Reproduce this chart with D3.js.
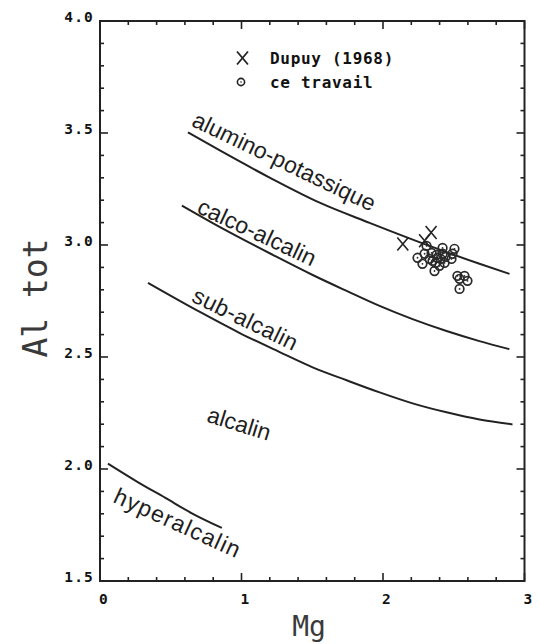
<!DOCTYPE html>
<html>
<head>
<meta charset="utf-8">
<script src="https://cdn.jsdelivr.net/npm/d3@7/dist/d3.min.js"></script>
<style>
  html, body { margin: 0; padding: 0; background: #fff; }
  svg { display: block; }
  .tick-label { font-family: "DejaVu Sans Mono", monospace; font-weight: bold; font-size: 14.5px; fill: #111; letter-spacing: 1.2px; }
  .legend-text { font-family: "DejaVu Sans Mono", monospace; font-weight: bold; font-size: 16px; fill: #111; letter-spacing: 0.7px; }
  .axis-title { font-family: "DejaVu Sans Mono", monospace; fill: #3a3a3a; }
  .field-label { font-family: "Liberation Sans", Arial, sans-serif; font-size: 23px; fill: #1e1e1e; }
</style>
</head>
<body>
<svg id="chart" width="539" height="644"></svg>
<script>
// Boundary curves (Mg, Al tot) separating the magmatic series fields
const aluminoPotassique = [[0.621, 3.503], [0.847, 3.422], [1.199, 3.301], [1.552, 3.189], [1.905, 3.099], [2.329, 2.996], [2.682, 2.916], [2.894, 2.871]];
const calcoAlcalin = [[0.579, 3.176], [0.868, 3.073], [1.221, 2.956], [1.503, 2.866], [1.743, 2.795], [1.976, 2.728], [2.209, 2.669], [2.449, 2.616], [2.682, 2.571], [2.893, 2.535]];
const subAlcalin = [[0.339, 2.831], [0.706, 2.701], [0.988, 2.607], [1.270, 2.522], [1.503, 2.454], [1.743, 2.396], [1.976, 2.342], [2.209, 2.293], [2.449, 2.253], [2.682, 2.221], [2.915, 2.199]];
const hyperalcalin = [[0.056, 2.024], [0.261, 1.944], [0.459, 1.872], [0.656, 1.800], [0.861, 1.737]];

// Biotite analyses
const dupuy1968 = [[2.14, 3.004], [2.34, 3.056], [2.294, 3.019]];
const ceTravail = [
  [2.308, 2.996], [2.421, 2.987], [2.505, 2.983], [2.244, 2.943], [2.294, 2.961],
  [2.279, 2.916], [2.350, 2.929], [2.385, 2.943], [2.399, 2.907], [2.364, 2.884],
  [2.435, 2.920], [2.484, 2.938], [2.491, 2.961], [2.343, 2.965], [2.421, 2.961],
  [2.378, 2.956], [2.407, 2.938], [2.371, 2.920], [2.442, 2.947], [2.329, 2.938],
  [2.526, 2.862], [2.576, 2.862], [2.597, 2.840], [2.541, 2.849], [2.541, 2.804]
];

// Axis ticks
const xMajorTicks = [0, 1, 2, 3];
const yMajorTicks = [1.5, 2.0, 2.5, 3.0, 3.5, 4.0];
const xTickLabels = ["0", "1", "2", "3"];
const yTickLabels = ["1.5", "2.0", "2.5", "3.0", "3.5", "4.0"];

// Field names
const fieldLabels = [
  { text: "alumino-potassique", mg: 0.640, al: 3.534, angle: 25.6, len: 200 },
  { text: "calco-alcalin", mg: 0.677, al: 3.146, angle: 25.1, len: 128 },
  { text: "sub-alcalin", mg: 0.640, al: 2.750, angle: 26.1, len: 114 },
  { text: "alcalin", mg: 0.748, al: 2.212, angle: 17.2, len: 65 },
  { text: "hyperalcalin", mg: 0.085, al: 1.854, angle: 24.5, len: 136 }
];

const svg = d3.select("#chart");
const x = d3.scaleLinear().domain([0, 3]).range([100, 524.5]);
const y = d3.scaleLinear().domain([1.5, 4.0]).range([581, 21]);
const ink = "#222";

const xMinor = d3.range(0, 3.0001, 0.2).map(v => +v.toFixed(2));
const yMinor = d3.range(1.5, 4.0001, 0.1).map(v => +v.toFixed(2));
const isMajor = (v, list) => list.some(m => Math.abs(m - v) < 1e-6);

// Frame
svg.append("rect")
  .attr("x", x(0)).attr("y", y(4))
  .attr("width", x(3) - x(0)).attr("height", y(1.5) - y(4))
  .attr("fill", "none").attr("stroke", ink).attr("stroke-width", 2);

// Inward ticks on all four sides
const ticks = svg.append("g").attr("stroke", ink).attr("stroke-width", 1.6);
xMinor.forEach(v => {
  const len = isMajor(v, xMajorTicks) ? 8 : 4;
  ticks.append("line").attr("x1", x(v)).attr("x2", x(v)).attr("y1", y(1.5)).attr("y2", y(1.5) - len);
  ticks.append("line").attr("x1", x(v)).attr("x2", x(v)).attr("y1", y(4)).attr("y2", y(4) + len);
});
yMinor.forEach(v => {
  const len = isMajor(v, yMajorTicks) ? 8 : 4;
  ticks.append("line").attr("y1", y(v)).attr("y2", y(v)).attr("x1", x(0)).attr("x2", x(0) + len);
  ticks.append("line").attr("y1", y(v)).attr("y2", y(v)).attr("x1", x(3)).attr("x2", x(3) - len);
});

// Tick labels
svg.append("g").selectAll("text").data(xMajorTicks).join("text")
  .attr("class", "tick-label")
  .attr("x", d => x(d) + 4).attr("y", 604)
  .attr("text-anchor", "middle")
  .text((d, i) => xTickLabels[i]);
svg.append("g").selectAll("text").data(yMajorTicks).join("text")
  .attr("class", "tick-label")
  .attr("x", 94).attr("y", d => y(d) + 1)
  .attr("text-anchor", "end")
  .text((d, i) => yTickLabels[i]);

// Axis titles
svg.append("text").attr("class", "axis-title")
  .attr("x", 309).attr("y", 636).attr("text-anchor", "middle")
  .attr("font-size", 28).text("Mg");
svg.append("text").attr("class", "axis-title")
  .attr("transform", "translate(47,298) rotate(-90)")
  .attr("text-anchor", "middle").attr("font-size", 33).text("Al tot");

// Boundary curves
const line = d3.line().x(d => x(d[0])).y(d => y(d[1])).curve(d3.curveMonotoneX);
[aluminoPotassique, calcoAlcalin, subAlcalin, hyperalcalin].forEach(c => {
  svg.append("path").attr("d", line(c))
    .attr("fill", "none").attr("stroke", ink).attr("stroke-width", 2);
});

// Field labels
svg.append("g").selectAll("text").data(fieldLabels).join("text")
  .attr("class", "field-label")
  .attr("transform", d => `translate(${x(d.mg)},${y(d.al)}) rotate(${d.angle})`)
  .attr("textLength", d => d.len).attr("lengthAdjust", "spacing")
  .text(d => d.text);

// Markers
function crossPath(cx, cy, w, h) {
  return `M${cx - w},${cy - h}L${cx + w},${cy + h}M${cx - w},${cy + h}L${cx + w},${cy - h}`;
}
const pts = svg.append("g");
ceTravail.forEach(d => {
  pts.append("circle").attr("cx", x(d[0])).attr("cy", y(d[1])).attr("r", 4.3)
    .attr("fill", "none").attr("stroke", "#2a2a2a").attr("stroke-width", 1.7);
  pts.append("circle").attr("cx", x(d[0])).attr("cy", y(d[1])).attr("r", 0.9).attr("fill", "#2a2a2a");
});
dupuy1968.forEach(d => {
  pts.append("path").attr("d", crossPath(x(d[0]), y(d[1]), 5.5, 6.5))
    .attr("stroke", ink).attr("stroke-width", 1.6).attr("fill", "none");
});

// Legend
const lg = svg.append("g");
lg.append("path").attr("d", crossPath(242.5, 58, 5.5, 6.5)).attr("stroke", ink).attr("stroke-width", 1.8);
lg.append("text").attr("class", "legend-text").attr("x", 270).attr("y", 63.5).text("Dupuy (1968)");
lg.append("circle").attr("cx", 241).attr("cy", 82).attr("r", 3.6).attr("fill", "none").attr("stroke", ink).attr("stroke-width", 1.6);
lg.append("circle").attr("cx", 241).attr("cy", 82).attr("r", 0.8).attr("fill", ink);
lg.append("text").attr("class", "legend-text").attr("x", 270).attr("y", 88).text("ce travail");
</script>
</body>
</html>
